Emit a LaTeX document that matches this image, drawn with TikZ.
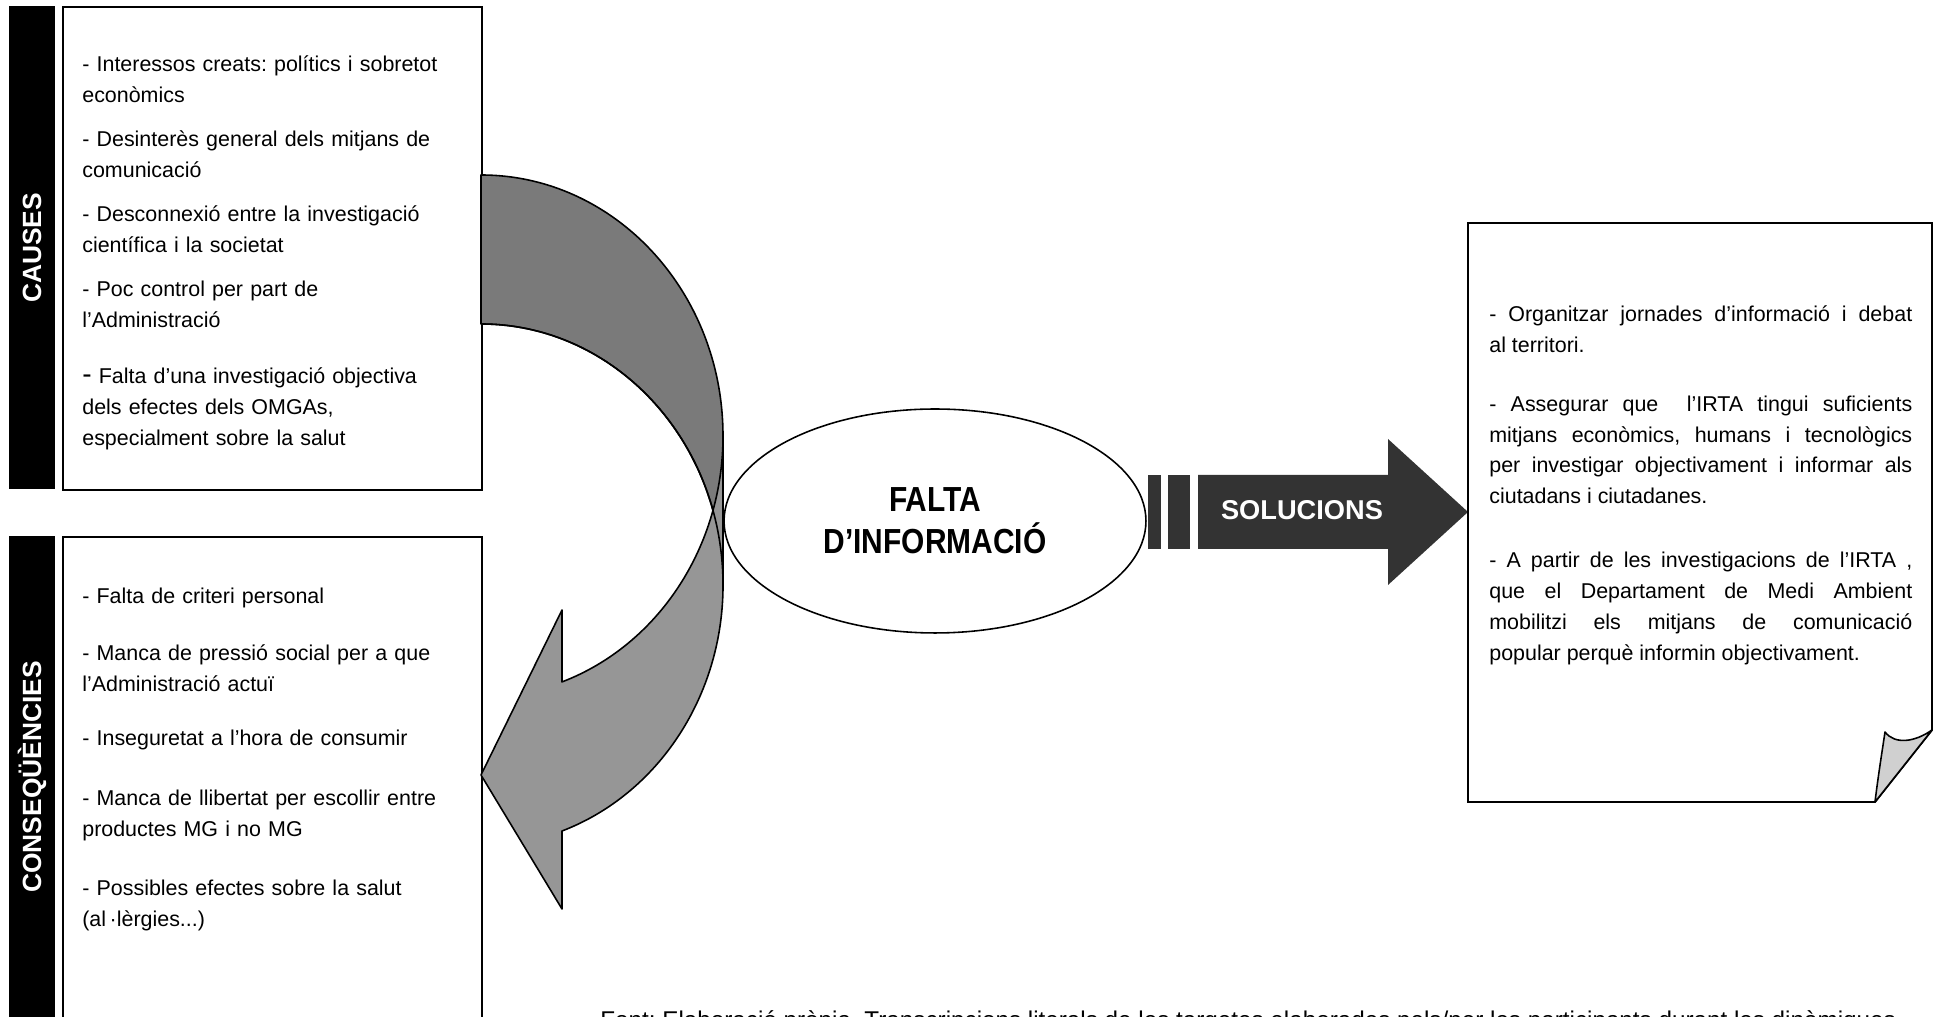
\documentclass[tikz,border=0pt]{standalone}
\usepackage{fontspec}
\setmainfont{Liberation Sans}
\newfontfamily\narrowsans[FakeStretch=0.86]{Liberation Sans}
\usetikzlibrary{shapes.geometric}
\frenchspacing

\definecolor{backgrey}{HTML}{7A7A7A}
\definecolor{frontgrey}{HTML}{969696}
\definecolor{arrowdark}{HTML}{333333}
\definecolor{foldgrey}{HTML}{D0D0D0}

\begin{document}
\begin{tikzpicture}[x=0.02cm, y=0.02cm,
    bar/.style={fill=black, minimum width=0.92cm, anchor=north west, inner sep=0pt},
    barlabel/.style={text=white, rotate=90, font=\bfseries\fontsize{15}{18}\selectfont},
    box/.style={draw, line width=1.1pt, minimum width=8.38cm, anchor=north west, inner sep=0pt},
    itemtext/.style={anchor=north west, inner sep=0pt, text width=8cm, align=left,
      font=\fontsize{12.2}{17.5}\selectfont},
    bandline/.style={line width=0.9pt, line join=round}]
    \useasboundingbox (0,0) rectangle (1934,1017);

    % 帯と枠
    \node[bar, minimum height=9.66cm] (causesbar) at (9,1011) {};
    \node[box, minimum height=9.66cm] (causesbox) at (62,1011) {};
    \node[bar, minimum height=9.62cm] (consbar) at (9,481) {};
    \node[box, minimum height=9.9cm] (consbox) at (62,481) {};
    \node[barlabel] (causeslabel) at (32,769) {CAUSES};
    \node[barlabel] (conslabel) at (32,240) {CONSEQÜÈNCIES};

    % テキスト
    \node[itemtext] (causestext) at (82,967.6) {\strut- Interessos creats: polítics i sobretot\\
      econòmics\\[7.8pt]
      - Desinterès general dels mitjans de\\
      comunicació\\[7.8pt]
      - Desconnexió entre la investigació\\
      científica i la societat\\[7.8pt]
      - Poc control per part de\\
      l’Administració\\[14.6pt]
      {\fontsize{16}{17.5}\selectfont -} Falta d’una investigació objectiva\\
      dels efectes dels OMGAs,\\
      especialment sobre la salut};
    \node[itemtext] (constext) at (82,435.6) {\strut- Falta de criteri personal\\[15.2pt]
      - Manca de pressió social per a que\\
      l’Administració actuï\\[13.5pt]
      - Inseguretat a l’hora de consumir\\[16.3pt]
      - Manca de llibertat per escollir entre\\
      productes MG i no MG\\[16.3pt]
      - Possibles efectes sobre la salut\\
      (al\,·lèrgies...)};

    % 曲がった矢印
    \filldraw[fill=backgrey, bandline] (481,842) arc[start angle=90, end angle=0, x radius=242, y radius=261]
      -- (723,432) arc[start angle=0, end angle=90, x radius=242, y radius=261] -- cycle;
    \filldraw[fill=frontgrey, bandline] (723,581) arc[start angle=0, end angle=-70.45, x radius=242, y radius=261]
      -- (562,407) -- (481,242) -- (562,108) -- (562,186)
      arc[start angle=-70.45, end angle=0, x radius=242, y radius=261] -- cycle;
    \draw[bandline] (723,432) arc[start angle=0, end angle=90, x radius=242, y radius=261];

    % 中心
    \node[ellipse, draw, line width=0.9pt, fill=white, minimum width=8.44cm, minimum height=4.48cm,
      inner sep=0pt, align=center, font=\narrowsans\bfseries\fontsize{19.8}{23.8}\selectfont]
      (falta) at (935,496) {FALTA\\D’INFORMACIÓ};

    % 右の矢印
    \fill[arrowdark] (1148,468) rectangle (1161,542);
    \fill[arrowdark] (1168,468) rectangle (1190,542);
    \fill[arrowdark] (1198,468) -- (1388,468) -- (1388,432) -- (1468,505)
      -- (1388,578) -- (1388,542) -- (1198,542) -- cycle;
    \node[text=white, font=\bfseries\fontsize{15.5}{18}\selectfont] (solucions) at (1302,507) {SOLUCIONS};

    % 解決策
    \draw[line width=1.1pt, fill=white] (1468,794) -- (1932,794) -- (1932,287) -- (1875,215)
      -- (1468,215) -- cycle;
    \filldraw[fill=foldgrey, line width=0.9pt, line join=round] (1875,215) .. controls (1878,240) and (1882,265) .. (1885,285)
      .. controls (1895,272) and (1915,275) .. (1932,287) -- cycle;
    \node[itemtext, text width=8.46cm, align=justify] (soltext) at (1489,717.6) {\tolerance=10000
      \strut- Organitzar jornades d’informació i debat\linebreak
      al territori.\par\vspace{16.3pt}
      - Assegurar que \ l’IRTA tingui suficients\linebreak
      mitjans econòmics, humans i tecnològics\linebreak
      per investigar objectivament i informar als\linebreak
      ciutadans i ciutadanes.\par\vspace{19pt}
      - A partir de les investigacions de l’IRTA ,\linebreak
      que el Departament de Medi Ambient\linebreak
      mobilitzi els mitjans de comunicació\linebreak
      popular perquè informin objectivament.\par};

    % 出典
    \node[anchor=base west, inner sep=0pt, font=\fontsize{13.8}{16}\selectfont] (fontnote) at (600,-11.4)
      {Font: Elaboració pròpia. Transcripcions literals de les targetes elaborades pels/per les participants durant les dinàmiques};
\end{tikzpicture}
\end{document}
